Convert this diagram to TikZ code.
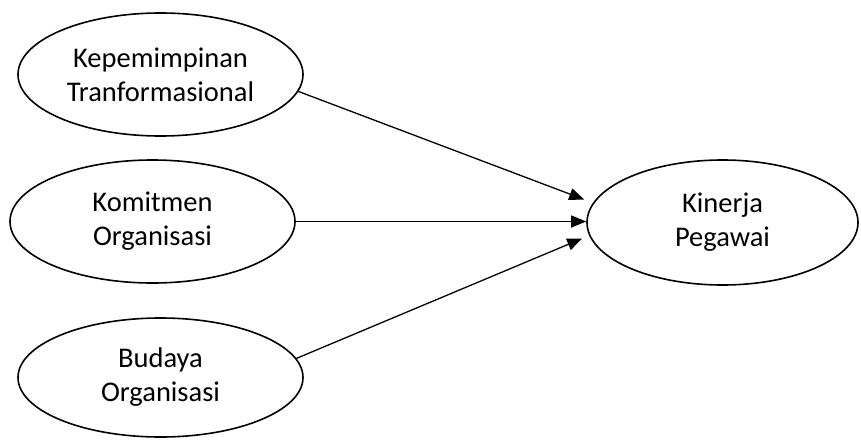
\documentclass[tikz,border=0pt]{standalone}
\usepackage{fontspec}
\setmainfont{Carlito}
\usetikzlibrary{positioning,arrows.meta,shapes.geometric}
\tikzset{
variabel/.style={
  draw, ellipse,
  line width=1.6pt,
  inner sep=0pt,
  align=center,
  font=\fontsize{28.5}{34}\selectfont
},
panah/.style={-{Triangle[length=15pt,width=12pt]}, line width=1.3pt},
}

\begin{document}
\begin{tikzpicture}[x=1pt,y=1pt]
            \useasboundingbox (0,0) rectangle (861,-439);
            \node[variabel, minimum width=285pt, minimum height=123pt] (kep) at (160.5,-74.5) {Kepemimpinan\\Tranformasional};
            \node[variabel, minimum width=285pt, minimum height=123pt] (kom) at (152.5,-221.5) {Komitmen\\Organisasi};
            \node[variabel, minimum width=285pt, minimum height=119pt] (bud) at (160.5,-377.5) {Budaya\\Organisasi};
            \node[variabel, minimum width=271pt, minimum height=125pt] (kin) at (722.5,-222.5) {Kinerja\\Pegawai};

            \coordinate[above left=23pt and 2pt of kin.west] (masuk1);
            \coordinate (masuk2) at (kom.east -| kin.west);
            \coordinate[below left=16pt and 4pt of kin.west] (masuk3);

            \draw[panah]  (kep.-7) -- (masuk1);
            \draw[panah]  (kom.east) -- (masuk2);
            \draw[panah]  (bud.8) -- (masuk3);
        \end{tikzpicture}
\end{document}
